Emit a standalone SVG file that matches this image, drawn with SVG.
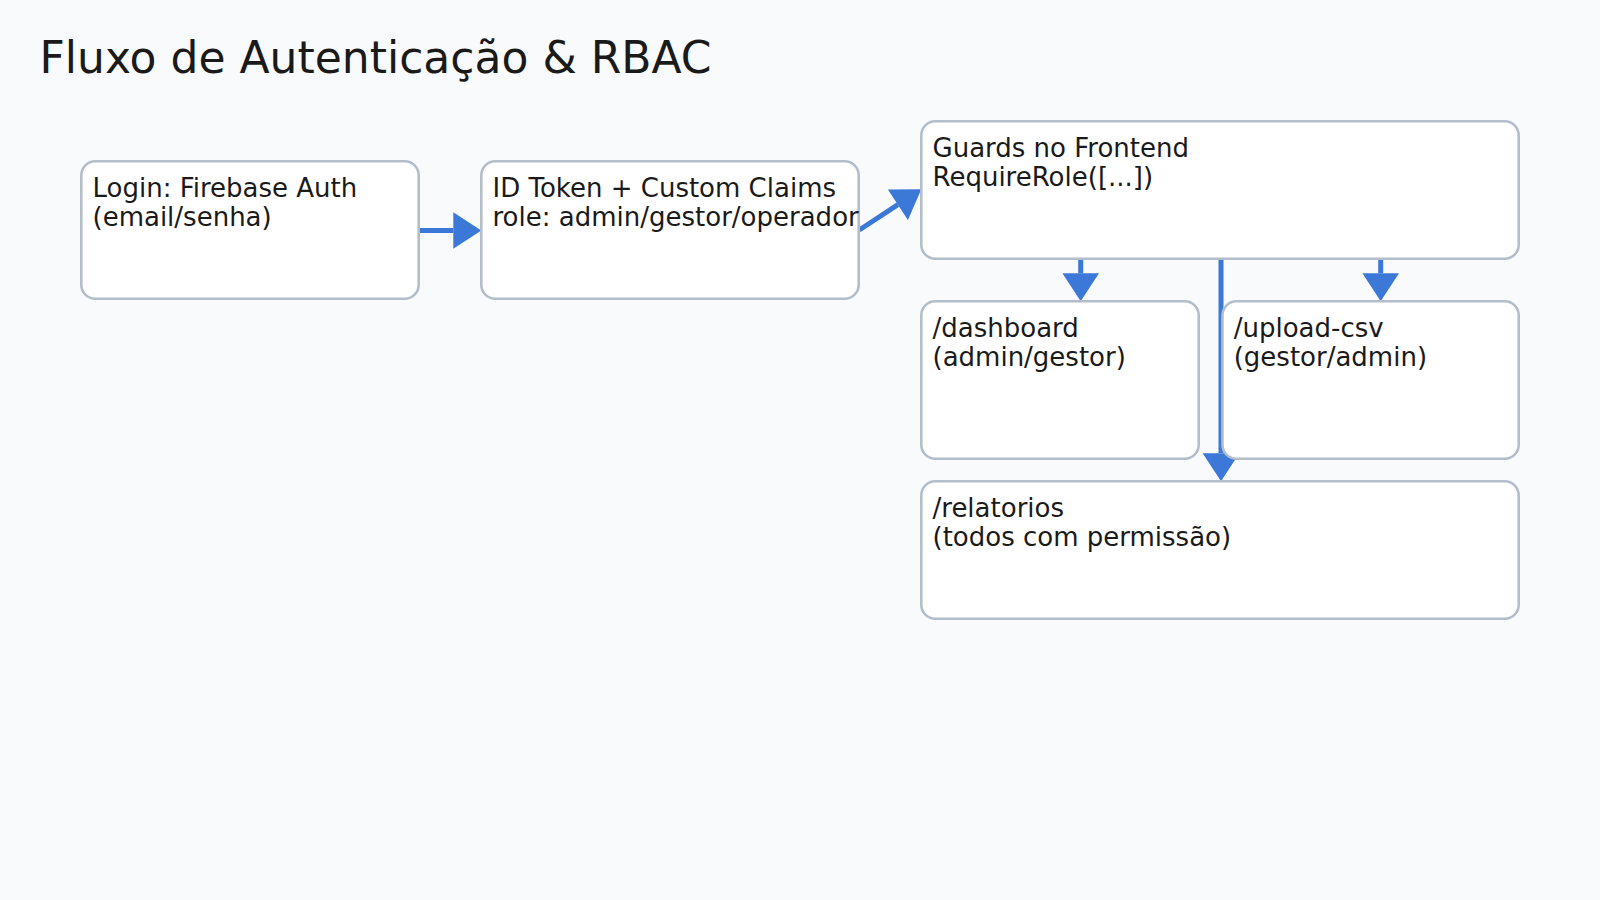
<svg xmlns="http://www.w3.org/2000/svg" width="1600" height="900" viewBox="0 0 1600 900">
  <defs>
    <style>
      .bg { fill: #f8fafc; }
      .title { font-family: "DejaVu Sans", "Noto Sans", sans-serif; font-size: 44px; fill: #1a1a1a; }
      .box { fill: #ffffff; stroke: #b4becb; stroke-width: 2.6; }
      .lbl { font-family: "DejaVu Sans", "Noto Sans", sans-serif; font-size: 26px; fill: #1a1a1a; }
      .edge { stroke: #3c78d8; stroke-width: 5; fill: none; marker-end: url(#arrow); }
    </style>
    <marker id="arrow" markerUnits="userSpaceOnUse" viewBox="0 -18.3 28 36.6" refX="0" refY="0" markerWidth="28" markerHeight="36.6" orient="auto" overflow="visible">
      <path d="M0,-18.3 L28,0 L0,18.3 Z" fill="#3c78d8"/>
    </marker>
  </defs>
  <rect class="bg" x="0" y="0" width="1600" height="900"/>
  <text class="title" x="39.5" y="73.3">Fluxo de Autenticação &amp; RBAC</text>

  <g id="connectors">
    <line class="edge" x1="418.7" y1="230.5" x2="453.3" y2="230.5"/>
    <line class="edge" x1="859.3" y1="230" x2="897.9" y2="204.7"/>
    <line class="edge" x1="1080.7" y1="258.7" x2="1080.7" y2="273.3"/>
    <line class="edge" x1="1380.7" y1="258.7" x2="1380.7" y2="273.3"/>
    <line class="edge" x1="1221" y1="258.7" x2="1221" y2="453.3"/>
  </g>

  <g id="node-login">
    <rect class="box" x="81.3" y="161.3" width="337.4" height="137.4" rx="14"/>
    <text class="lbl" x="92.5" y="196.7">Login: Firebase Auth</text>
    <text class="lbl" x="92.5" y="226.2">(email/senha)</text>
  </g>
  <g id="node-token">
    <rect class="box" x="481.3" y="161.3" width="377.4" height="137.4" rx="14"/>
    <text class="lbl" x="492.5" y="196.7">ID Token + Custom Claims</text>
    <text class="lbl" x="492.5" y="226.2">role: admin/gestor/operador</text>
  </g>
  <g id="node-guards">
    <rect class="box" x="921.3" y="121.3" width="597.4" height="137.4" rx="14"/>
    <text class="lbl" x="932.5" y="156.7">Guards no Frontend</text>
    <text class="lbl" x="932.5" y="186.2">RequireRole([...])</text>
  </g>
  <g id="node-dashboard">
    <rect class="box" x="921.3" y="301.3" width="277.4" height="157.4" rx="14"/>
    <text class="lbl" x="932.5" y="336.7">/dashboard</text>
    <text class="lbl" x="932.5" y="366.2">(admin/gestor)</text>
  </g>
  <g id="node-upload">
    <rect class="box" x="1222.5" y="301.3" width="296.2" height="157.4" rx="14"/>
    <text class="lbl" x="1233.7" y="336.7">/upload-csv</text>
    <text class="lbl" x="1233.7" y="366.2">(gestor/admin)</text>
  </g>
  <g id="node-relatorios">
    <rect class="box" x="921.3" y="481.3" width="597.4" height="137.4" rx="14"/>
    <text class="lbl" x="932.5" y="516.7">/relatorios</text>
    <text class="lbl" x="932.5" y="546.2">(todos com permissão)</text>
  </g>
</svg>
